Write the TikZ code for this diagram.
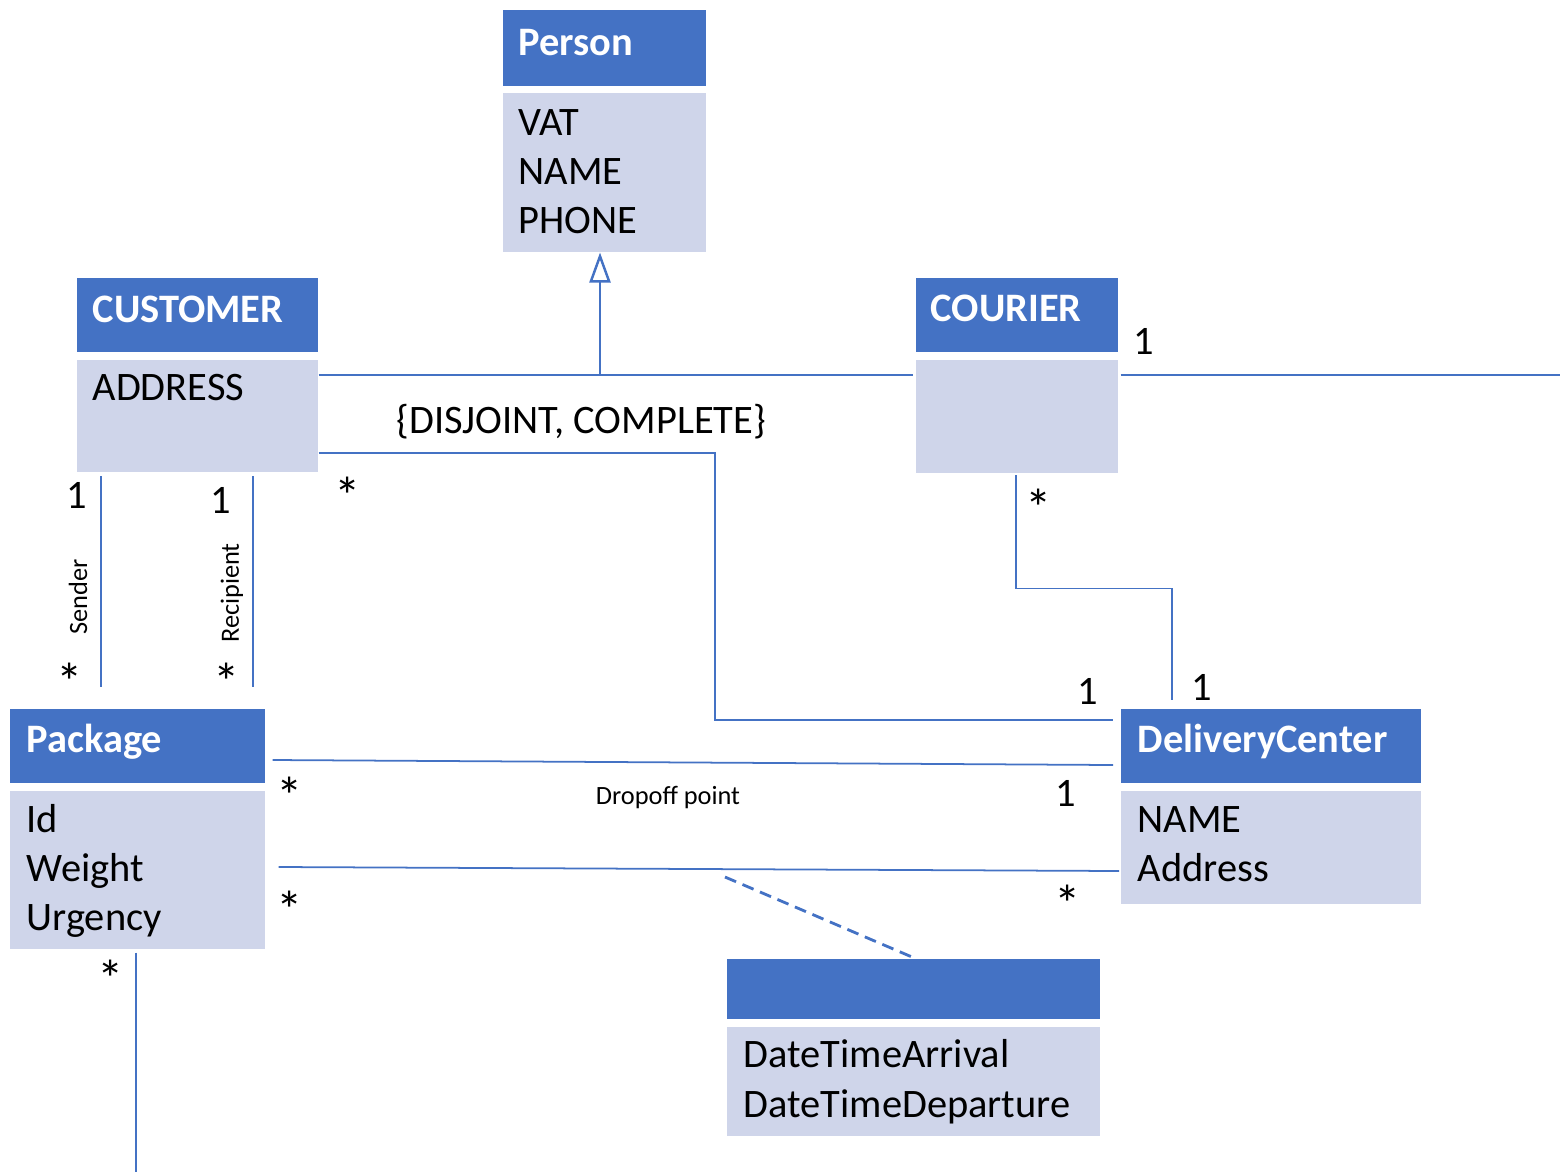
\documentclass[tikz,border=0pt]{standalone}
\usepackage{fontspec}
\setmainfont{Carlito}
\usetikzlibrary{arrows.meta}
\definecolor{hdr}{HTML}{4472C4}
\definecolor{bdy}{HTML}{CFD5EA}
\tikzset{
  hbox/.style={fill=hdr, draw=none, inner sep=0pt, anchor=north west},
  bbox/.style={fill=bdy, draw=none, inner sep=0pt, anchor=north west},
  htext/.style={anchor=base west, text=white, inner sep=0pt, font=\bfseries\fontsize{11.5}{13.9}\selectfont},
  btext/.style={anchor=base west, inner sep=0pt, font=\fontsize{11.5}{13.9}\selectfont},
  mult/.style={inner sep=0pt, font=\fontsize{11.5}{13.9}\selectfont},
  star/.style={inner sep=0pt, yshift=-0.09cm, font=\fontsize{15}{18}\selectfont},
  small/.style={inner sep=0pt, font=\fontsize{7.5}{9}\selectfont},
  conn/.style={draw=hdr, line width=0.5pt},
  dashconn/.style={draw=hdr, line width=0.8pt, dash pattern=on 0.12cm off 0.07cm},
}
\begin{document}
\begin{tikzpicture}[x=0.01cm, y=-0.01cm]
\useasboundingbox (0,0) rectangle (1560,1172);
% Person
\node[hbox, minimum width=2.03cm, minimum height=0.76cm] (personH) at (502,9) {};
\node[bbox, minimum width=2.03cm, minimum height=1.59cm] (personB) at (502,92) {};
\node[htext] (personT) at (518,55) {Person};
\foreach \t [count=\i] in {VAT,NAME,PHONE}
  \node[btext] (personA\i) at (518,{135+(\i-1)*49}) {\t};
% Customer
\node[hbox, minimum width=2.41cm, minimum height=0.74cm] (custH) at (76,277) {};
\node[bbox, minimum width=2.41cm, minimum height=1.12cm] (custB) at (76,359) {};
\node[htext] (custT) at (92,322) {CUSTOMER};
\node[btext] (custA1) at (92,400) {ADDRESS};
% Courier
\node[hbox, minimum width=2.02cm, minimum height=0.74cm] (courH) at (915,277) {};
\node[bbox, minimum width=2.02cm, minimum height=1.13cm] (courB) at (915,359) {};
\node[htext] (courT) at (930,321) {COURIER};
% Package
\node[hbox, minimum width=2.55cm, minimum height=0.74cm] (packH) at (9,708) {};
\node[bbox, minimum width=2.55cm, minimum height=1.58cm] (packB) at (9,790) {};
\node[htext] (packT) at (26,752) {Package};
\foreach \t [count=\i] in {Id,Weight,Urgency}
  \node[btext] (packA\i) at (26,{832+(\i-1)*49}) {\t};
% DeliveryCenter
\node[hbox, minimum width=3.00cm, minimum height=0.74cm] (dcH) at (1120,708) {};
\node[bbox, minimum width=3.00cm, minimum height=1.13cm] (dcB) at (1120,790) {};
\node[htext] (dcT) at (1137,752) {DeliveryCenter};
\foreach \t [count=\i] in {NAME,Address}
  \node[btext] (dcA\i) at (1137,{832+(\i-1)*49}) {\t};
% Association class
\node[hbox, minimum width=3.73cm, minimum height=0.60cm] (acH) at (726,958) {};
\node[bbox, minimum width=3.73cm, minimum height=1.09cm] (acB) at (726,1026) {};
\foreach \t [count=\i] in {DateTimeArrival,DateTimeDeparture}
  \node[btext] (acA\i) at (743,{1067+(\i-1)*50}) {\t};

% Generalization
\coordinate (gj) at (600,375);
\draw[conn] ([shift={(0,16)}]custB.north east) -- ([shift={(-2,16)}]courB.north west);
\draw[conn, -{Triangle[open, length=0.30cm, width=0.21cm, line width=0.7pt]}] (gj) -- (gj |- personB.south);
\node[btext] (gs) at (396,433) {\{DISJOINT, COMPLETE\}};
% Courier to right edge
\coordinate (rend) at (1560,375);
\draw[conn] ([shift={(2,16)}]courB.north east) -- (rend);
\node[mult] (m1) at (1144,341) {1};
% Customer -> DeliveryCenter
\draw[conn] ([shift={(0,94)}]custB.north east) -- (715,453) -- (715,720) -- ([shift={(-7,12)}]dcH.north west);
\node[star] (m2) at (348,487) {*};
\node[mult] (m3) at (1088,691) {1};
% Sender
\draw[conn] ([shift={(25,4)}]custB.south west) -- ([shift={(92,-21)}]packH.north west);
\node[mult] (m4) at (77,495) {1};
\node[star] (m5) at (70,673) {*};
\node[small, rotate=90] (sender) at (78,597) {Sender};
% Recipient
\draw[conn] ([shift={(177,4)}]custB.south west) -- ([shift={(244,-21)}]packH.north west);
\node[mult] (m6) at (221,500) {1};
\node[star] (m7) at (227,673) {*};
\node[small, rotate=90] (recip) at (232,593) {Recipient};
% Courier -> DeliveryCenter
\draw[conn] ([shift={(101,2)}]courB.south west) -- ++(0,113) -| ([shift={(52,-8)}]dcH.north west);
\node[star] (m8) at (1039,499) {*};
\node[mult] (m9) at (1202,687) {1};
% Package -> DeliveryCenter (dropoff)
\draw[conn] ([shift={(7,52)}]packH.north east) -- ([shift={(-7,57)}]dcH.north west);
\node[star] (m10) at (290,787) {*};
\node[mult] (m11) at (1066,793) {1};
\node[small] (drop) at (668,797) {Dropoff point};
% Package -> DeliveryCenter (second)
\draw[conn] ([shift={(13,77)}]packB.north east) -- ([shift={(-1,81)}]dcB.north west);
\node[star] (m12) at (290,901) {*};
\node[star] (m13) at (1068,895) {*};
\coordinate (acj) at (725,877);
\draw[dashconn] (acj) -- ([shift={(186,-1)}]acH.north west);
% Package bottom
\coordinate (pend) at (136,1172);
\draw[conn] ([shift={(127,3)}]packB.south west) -- (pend);
\node[star] (m14) at (111,970) {*};
\end{tikzpicture}
\end{document}
